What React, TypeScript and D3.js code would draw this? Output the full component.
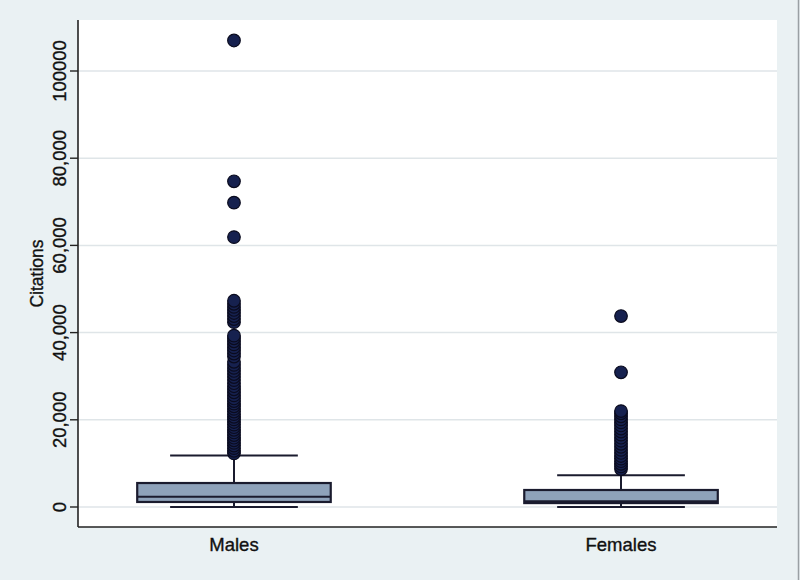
import { useEffect, useRef } from "react"
import * as d3 from "d3"

// groups
const groups = ["Males", "Females"]

// box statistics per group (citations)
const lowerWhisker = [0, 0]
const q1 = [1150, 900]
const median = [2350, 1300]
const q3 = [5500, 3900]
const upperWhisker = [11800, 7300]

// outliers
const malesOutliers = [
  12300, 12900, 13500, 14100, 14700, 15300, 15900, 16500, 17100, 17700, 18300, 18900,
  19500, 20100, 20700, 21300, 21900, 22500, 23100, 23700, 24300, 24900, 25600, 26300,
  27000, 27700, 28400, 29100, 29800, 30500, 31200, 31900, 32600, 33300, 34500, 35200,
  35900, 36600, 37300, 38000, 38700, 39300, 42400, 43100, 43800, 44500, 45200, 45900,
  46600, 47300, 61900, 69800, 74700, 107000,
]
const femalesOutliers = [
  8700, 9300, 9900, 10500, 11100, 11700, 12400, 13100, 13800, 14500, 15200, 15900,
  16600, 17300, 18000, 18700, 19400, 20100, 20800, 21500, 22000, 30900, 43800,
]
const outliers = [malesOutliers, femalesOutliers]

// y ticks
const yTicks = [0, 20000, 40000, 60000, 80000, 100000]
const yTickLabels = ["0", "20,000", "40,000", "60,000", "80,000", "100000"]

export default function App() {
  const svgRef = useRef(null)

  useEffect(() => {
    if (!svgRef.current) return
    const svg = d3.select(svgRef.current)
    svg.selectAll("*").remove()

    const width = 800
    const height = 580
    const plot = { left: 78, right: 777, top: 20, bottom: 527 }
    const font = "'Liberation Sans', Arial, Helvetica, sans-serif"
    const ink = "#111"

    const x = d3.scalePoint().domain(groups).range([plot.left, plot.right]).padding(0.403)
    const y = d3.scaleLinear().domain([0, 100000]).range([507, 71])
    const step = x.step()
    const boxW = step * 0.5
    const capW = step * 0.33

    // background
    svg.append("rect").attr("width", width).attr("height", height).attr("fill", "#eaf1f3")
    svg.append("line")
      .attr("x1", 798.5).attr("x2", 798.5).attr("y1", 0).attr("y2", height)
      .attr("stroke", "#9aa0a4").attr("stroke-width", 1.5)
    svg.append("rect")
      .attr("x", plot.left).attr("y", plot.top)
      .attr("width", plot.right - plot.left).attr("height", plot.bottom - plot.top)
      .attr("fill", "#ffffff")

    // grid lines
    svg.append("g")
      .selectAll("line")
      .data(yTicks)
      .join("line")
      .attr("x1", plot.left).attr("x2", plot.right)
      .attr("y1", (d) => y(d)).attr("y2", (d) => y(d))
      .attr("stroke", "#dfe5e8").attr("stroke-width", 1.5)

    // y axis
    const yAxis = svg.append("g")
    yAxis.append("line")
      .attr("x1", plot.left).attr("x2", plot.left)
      .attr("y1", plot.top).attr("y2", plot.bottom)
      .attr("stroke", "#222").attr("stroke-width", 1.6)
    yAxis.selectAll("line.tick")
      .data(yTicks)
      .join("line")
      .attr("class", "tick")
      .attr("x1", plot.left - 8).attr("x2", plot.left)
      .attr("y1", (d) => y(d)).attr("y2", (d) => y(d))
      .attr("stroke", "#222").attr("stroke-width", 1.4)
    yAxis.selectAll("text")
      .data(yTicks)
      .join("text")
      .attr("transform", (d) => `translate(66,${y(d)}) rotate(-90)`)
      .attr("text-anchor", "middle")
      .attr("font-family", font)
      .attr("font-size", 18.5)
      .attr("fill", ink)
      .attr("stroke", ink)
      .attr("stroke-width", 0.35)
      .text((d, i) => yTickLabels[i])

    svg.append("text")
      .attr("transform", `translate(43,${(plot.top + plot.bottom) / 2}) rotate(-90)`)
      .attr("text-anchor", "middle")
      .attr("font-family", font)
      .attr("font-size", 17.5)
      .attr("fill", ink)
      .attr("stroke", ink)
      .attr("stroke-width", 0.35)
      .text("Citations")

    // x axis
    svg.append("line")
      .attr("x1", plot.left).attr("x2", plot.right)
      .attr("y1", plot.bottom).attr("y2", plot.bottom)
      .attr("stroke", "#222").attr("stroke-width", 1.6)
    svg.append("g")
      .selectAll("text")
      .data(groups)
      .join("text")
      .attr("x", (d) => x(d))
      .attr("y", 551)
      .attr("text-anchor", "middle")
      .attr("font-family", font)
      .attr("font-size", 18.5)
      .attr("fill", ink)
      .attr("stroke", ink)
      .attr("stroke-width", 0.35)
      .text((d) => d)

    // boxes
    const boxStroke = "#1a1b2e"
    groups.forEach((g, i) => {
      const cx = x(g)
      const bg = svg.append("g")
      // whiskers
      bg.append("line")
        .attr("x1", cx).attr("x2", cx)
        .attr("y1", y(q3[i])).attr("y2", y(upperWhisker[i]))
        .attr("stroke", boxStroke).attr("stroke-width", 2)
      bg.append("line")
        .attr("x1", cx).attr("x2", cx)
        .attr("y1", y(q1[i])).attr("y2", y(lowerWhisker[i]))
        .attr("stroke", boxStroke).attr("stroke-width", 2)
      bg.append("line")
        .attr("x1", cx - capW / 2).attr("x2", cx + capW / 2)
        .attr("y1", y(upperWhisker[i])).attr("y2", y(upperWhisker[i]))
        .attr("stroke", boxStroke).attr("stroke-width", 2)
      bg.append("line")
        .attr("x1", cx - capW / 2).attr("x2", cx + capW / 2)
        .attr("y1", y(lowerWhisker[i])).attr("y2", y(lowerWhisker[i]))
        .attr("stroke", boxStroke).attr("stroke-width", 2)
      // box
      bg.append("rect")
        .attr("x", cx - boxW / 2).attr("width", boxW)
        .attr("y", y(q3[i])).attr("height", y(q1[i]) - y(q3[i]))
        .attr("fill", "#8ea2ba").attr("stroke", boxStroke).attr("stroke-width", 2.2)
      bg.append("line")
        .attr("x1", cx - boxW / 2).attr("x2", cx + boxW / 2)
        .attr("y1", y(median[i])).attr("y2", y(median[i]))
        .attr("stroke", boxStroke).attr("stroke-width", 2.2)
      // outliers
      bg.selectAll("circle")
        .data(outliers[i])
        .join("circle")
        .attr("cx", cx)
        .attr("cy", (d) => y(d))
        .attr("r", 6.3)
        .attr("fill", "#16214f")
        .attr("stroke", "#0a0b1e")
        .attr("stroke-width", 1.2)
    })

    svg.attr("width", width).attr("height", height).attr("viewBox", [0, 0, width, height])
  }, [])

  return (
    <div style={{ position: "absolute", left: 0, top: 0, width: 800, height: 580 }}>
      <svg ref={svgRef} style={{ display: "block" }}></svg>
    </div>
  )
}
